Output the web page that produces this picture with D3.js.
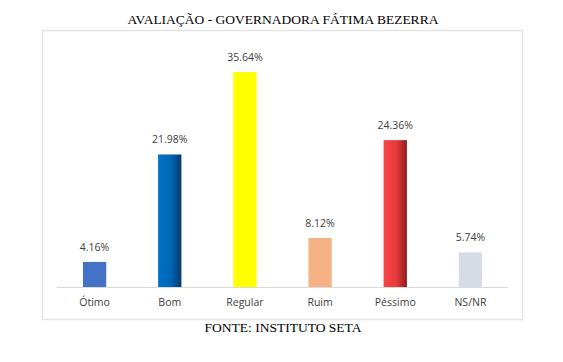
<!DOCTYPE html>
<html>
<head>
<meta charset="utf-8">
<script src="https://cdn.jsdelivr.net/npm/d3@7"></script>
<style>
  body { margin: 0; background: #fff; }
</style>
</head>
<body>
<div id="chart"></div>
<script>
var categories = ["Ótimo", "Bom", "Regular", "Ruim", "Péssimo", "NS/NR"];
var values = [4.16, 21.98, 35.64, 8.12, 24.36, 5.74];
var labels = ["4.16%", "21.98%", "35.64%", "8.12%", "24.36%", "5.74%"];
var colors = ["#4472c4", "#0070c0", "#ffff00", "#f4b183", "#f03c3c", "#d6dce5"];

var width = 563, height = 362;
var svg = d3.select("#chart").append("svg")
  .attr("width", width)
  .attr("height", height);

// gradients for Bom and Péssimo (darker on the right)
var defs = svg.append("defs");
var g1 = defs.append("linearGradient").attr("id", "grad_bom").attr("x1", "0").attr("x2", "1");
g1.append("stop").attr("offset", "0").attr("stop-color", "#0072c6");
g1.append("stop").attr("offset", "0.55").attr("stop-color", "#0067b5");
g1.append("stop").attr("offset", "1").attr("stop-color", "#063a6a");
var g2 = defs.append("linearGradient").attr("id", "grad_pes").attr("x1", "0").attr("x2", "1");
g2.append("stop").attr("offset", "0").attr("stop-color", "#f84444");
g2.append("stop").attr("offset", "0.55").attr("stop-color", "#e83a3a");
g2.append("stop").attr("offset", "1").attr("stop-color", "#8a2020");
var fills = [colors[0], "url(#grad_bom)", colors[2], colors[3], "url(#grad_pes)", colors[5]];

// title
svg.append("text")
  .attr("x", 283)
  .attr("y", 24)
  .style("text-anchor", "middle")
  .style("font-family", "Liberation Serif")
  .style("font-size", "13.5px")
  .style("fill", "#000")
  .text("AVALIAÇÃO - GOVERNADORA FÁTIMA BEZERRA");

// chart frame
svg.append("rect")
  .attr("x", 42.5)
  .attr("y", 30.5)
  .attr("width", 480)
  .attr("height", 289)
  .style("fill", "#fff")
  .style("stroke", "#e4e4e4")
  .style("stroke-width", 1.5);

var margin = { left: 57, right: 55, top: 30, base: 287 };
var x = d3.scaleBand()
  .domain(categories)
  .range([margin.left, width - margin.right])
  .paddingInner(0.69)
  .paddingOuter(0.345);

var y = d3.scaleLinear()
  .domain([0, 40])
  .range([margin.base, margin.base - 40 * 6.03]);

svg.selectAll(".bar")
  .data(categories)
  .enter().append("rect")
  .attr("class", "bar")
  .attr("x", function(d) { return x(d); })
  .attr("y", function(d, i) { return y(values[i]); })
  .attr("width", x.bandwidth())
  .attr("height", function(d, i) { return y(0) - y(values[i]); })
  .style("fill", function(d, i) { return fills[i]; });

svg.selectAll(".vlabel")
  .data(categories)
  .enter().append("text")
  .attr("class", "vlabel")
  .attr("x", function(d) { return x(d) + x.bandwidth() / 2; })
  .attr("y", function(d, i) { return y(values[i]) - 11; })
  .style("text-anchor", "middle")
  .style("font-family", "Open Sans")
  .style("font-size", "10.5px")
  .style("fill", "#404040")
  .text(function(d, i) { return labels[i]; });

// axis
var axis = svg.append("g")
  .attr("transform", "translate(0," + margin.base + ")")
  .call(d3.axisBottom(x).tickSize(0).tickPadding(12));
axis.select(".domain").attr("stroke", "#d9d9d9").attr("d", "M" + margin.left + ",0.5H" + (width - margin.right));
axis.selectAll("text")
  .style("font-family", "Open Sans")
  .style("font-size", "10.5px")
  .style("fill", "#404040");

// source
svg.append("text")
  .attr("x", 283)
  .attr("y", 332)
  .style("text-anchor", "middle")
  .style("font-family", "Liberation Serif")
  .style("font-size", "13.5px")
  .style("fill", "#000")
  .text("FONTE: INSTITUTO SETA");
</script>
</body>
</html>
